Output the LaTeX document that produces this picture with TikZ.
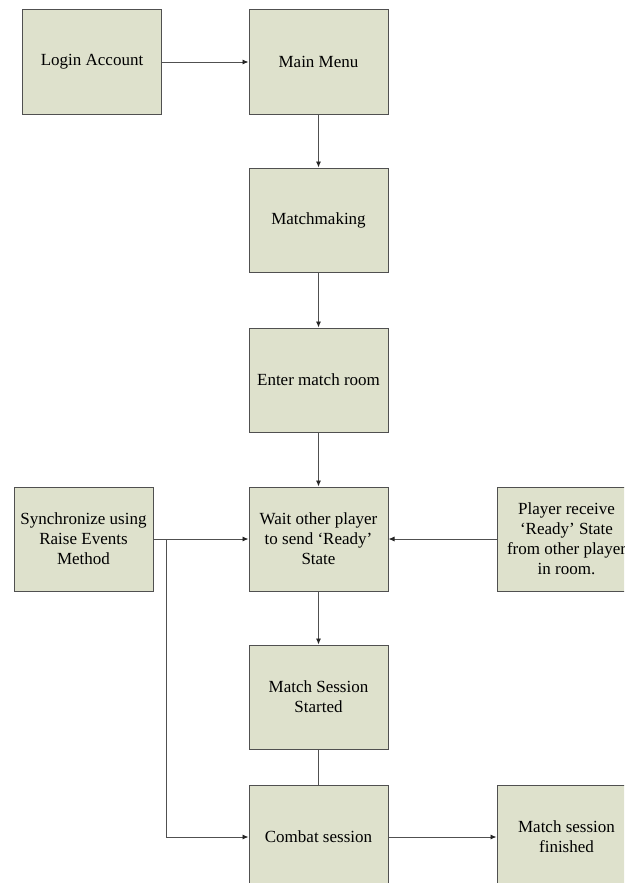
\documentclass[tikz,border=0pt]{standalone}
\usepackage{fontspec}
\setmainfont{Liberation Serif}
\usetikzlibrary{arrows.meta}
\definecolor{boxfill}{RGB}{222,225,204}
\definecolor{boxline}{RGB}{80,80,80}
\tikzset{
  stepbox/.style={draw=boxline, line width=1pt, fill=boxfill,
    minimum width=139pt, minimum height=104pt, inner sep=0pt,
    align=center, font=\fontsize{17}{20}\selectfont},
  flow/.style={draw=boxline, line width=0.9pt},
  arr/.style={flow, -{Latex[length=6pt,width=5pt,color=black!85]}}
}
\begin{document}
\begin{tikzpicture}[x=1pt,y=-1pt]
  \useasboundingbox (0,0) rectangle (624,883);
  \clip (0,0) rectangle (624,883);
  \fill[white] (0,0) rectangle (624,883);

  % process boxes
  \node[stepbox] (login)    at (92,62)    {Login Account};
  \node[stepbox] (main)     at (318.5,62) {Main Menu};
  \node[stepbox] (match)    at (318.5,220){Matchmaking};
  \node[stepbox] (enter)    at (318.5,380){Enter match room};
  \node[stepbox] (wait)     at (318.5,539){Wait other player\\to send `Ready'\\State};
  \node[stepbox] (sync)     at (83.5,539) {Synchronize using\\Raise Events\\Method};
  \node[stepbox] (player)   at (566.5,539){Player receive\\`Ready' State\\from other player\\in room.};
  \node[stepbox] (started)  at (318.5,697){Match Session\\Started};
  \node[stepbox] (combat)   at (318.5,837){Combat session};
  \node[stepbox] (finished) at (566.5,837){Match session\\finished};

  % connectors
  \draw[arr] (login.east) -- (main.west);
  \draw[arr] (main.south) -- (match.north);
  \draw[arr] (match.south) -- (enter.north);
  \draw[arr] (enter.south) -- (wait.north);
  \draw[arr] (sync.east) -- (wait.west);
  \draw[arr] (player.west) -- (wait.east);
  \draw[arr] (wait.south) -- (started.north);
  \draw[flow] (started.south) -- (combat.north);
  \coordinate (branch) at (166,539);
  \draw[arr] (branch) |- (combat.west);
  \draw[arr] (combat.east) -- (finished.west);
\end{tikzpicture}
\end{document}
